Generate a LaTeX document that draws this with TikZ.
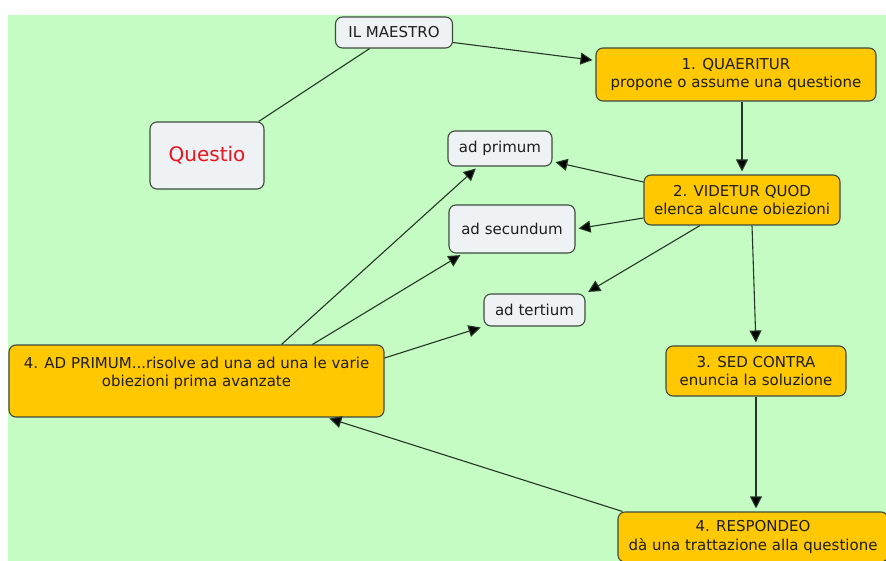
\documentclass[tikz,border=0pt]{standalone}
\usepackage{fontspec}
\setmainfont{DejaVu Sans}
\usepackage{tikz}
\usetikzlibrary{positioning,arrows.meta,calc}
\definecolor{meadow}{HTML}{C4FCC4}
\definecolor{gold}{HTML}{FFC800}
\definecolor{pale}{HTML}{EEF2F4}
\definecolor{edge}{HTML}{3E4B3E}
\definecolor{wire}{HTML}{263626}
\definecolor{ink}{HTML}{1E1E1E}
\definecolor{redtext}{HTML}{E8141E}

\begin{document}
\begin{tikzpicture}[x=1pt, y=-1pt,
  font=\fontsize{15}{18.5}\selectfont,
  box/.style={draw=edge, line width=1.1pt, rounded corners=7pt, fill=pale, text=ink, align=center, inner sep=2pt},
  stage/.style={box, fill=gold},
  arr/.style={-{Triangle[length=12pt,width=12pt,fill=black]}, line width=1.1pt, draw=wire, shorten >=3pt},
  link/.style={line width=1.1pt, draw=wire}]
\useasboundingbox (0,0) rectangle (886,561);
\clip (0,0) rectangle (886,561);
\fill[meadow] (8,15) rectangle (886,561);
\node[box, minimum width=117pt, minimum height=31pt] (maestro) at (394,32.5) {IL MAESTRO};
\node[stage, minimum width=280pt, minimum height=53pt] (quaer) at (736,74.5) {1. QUAERITUR\\propone o assume una questione};
\node[box, minimum width=114pt, minimum height=67pt, text=redtext, font=\fontsize{20}{24}\selectfont] (questio) at (207,155.5) {Questio};
\node[box, minimum width=104pt, minimum height=35pt] (prim) at (500,148.5) {ad primum};
\node[stage, minimum width=196pt, minimum height=50pt] (vid) at (742,200) {2. VIDETUR QUOD\\elenca alcune obiezioni};
\node[box, minimum width=126pt, minimum height=48pt] (sec) at (512,229) {ad secundum};
\node[box, minimum width=101pt, minimum height=32pt] (tert) at (534.5,310) {ad tertium};
\node[stage, minimum width=180pt, minimum height=50pt] (sed) at (756,371) {3. SED CONTRA\\enuncia la soluzione};
\node[stage, minimum width=270pt, minimum height=50pt] (resp) at (753,537) {4. RESPONDEO\\dà una trattazione alla questione};
\node[stage, minimum width=375pt, minimum height=72pt] (adprim) at (196.5,381) {4. AD PRIMUM...risolve ad una ad una le varie\\obiezioni prima avanzate\\\mbox{}};
\draw[link] (maestro) -- (questio);
\draw[arr] ([yshift=-10pt]maestro.east) -- ([yshift=14pt]quaer.west);
\draw[arr] (quaer.south -| vid.north) -- (vid.north);
\draw[arr] ([yshift=18pt]vid.west) -- ([yshift=-13pt]prim.east);
\draw[arr] ([yshift=-18pt]vid.west) -- (sec.east);
\draw[arr] ([xshift=-42pt]vid.south) -- (tert.north east);
\draw[arr] ([xshift=10pt]vid.south) -- (sed.north);
\draw[arr] (sed.south) -- (sed.south |- resp.north);
\draw[arr] ([xshift=5pt]resp.north west) -- ([xshift=-58pt]adprim.south east);
\draw[arr] ([xshift=85pt]adprim.north) -- ([xshift=-22pt]prim.south);
\draw[arr] ([xshift=116pt]adprim.north) -- ([xshift=-49pt]sec.south);
\draw[arr] ([yshift=23pt]adprim.east) -- (tert.south west);
\end{tikzpicture}
\end{document}
